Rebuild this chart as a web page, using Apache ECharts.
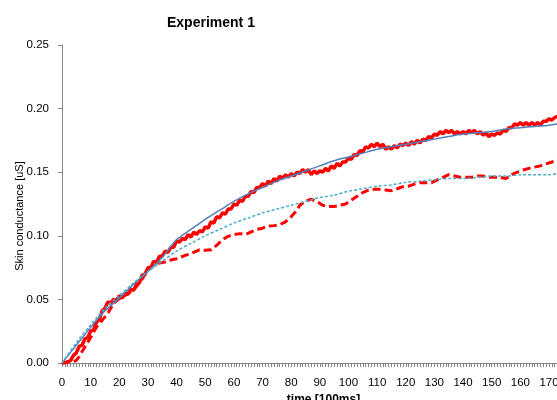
<!DOCTYPE html>
<html>
<head>
<meta charset="utf-8">
<script src="https://cdn.jsdelivr.net/npm/echarts@6/dist/echarts.min.js"></script>
<style>html,body{margin:0;padding:0;background:#fff;}#c{width:557px;height:400px;}</style>
</head>
<body>
<div id="c"></div>
<script>
// Measured data 1 (solid red), one value per time step of 1 (index = time [100ms])
const measured1 = [
0.000,0.000,0.001,0.002,0.006,0.008,0.013,0.014,0.019,0.020,
0.025,0.026,0.032,0.034,0.041,0.043,0.048,0.047,0.050,0.049,
0.053,0.051,0.055,0.054,0.058,0.057,0.062,0.063,0.069,0.070,
0.075,0.075,0.080,0.079,0.084,0.084,0.088,0.087,0.091,0.091,
0.096,0.095,0.098,0.097,0.101,0.099,0.103,0.101,0.104,0.103,
0.107,0.106,0.111,0.110,0.115,0.114,0.118,0.117,0.121,0.121,
0.125,0.124,0.128,0.127,0.131,0.131,0.135,0.134,0.138,0.138,
0.141,0.139,0.143,0.141,0.145,0.143,0.147,0.145,0.148,0.146,
0.149,0.147,0.150,0.149,0.152,0.150,0.152,0.148,0.151,0.149,
0.151,0.150,0.153,0.151,0.155,0.153,0.157,0.155,0.158,0.158,
0.161,0.160,0.164,0.163,0.167,0.166,0.170,0.169,0.172,0.170,
0.173,0.170,0.172,0.168,0.170,0.168,0.171,0.169,0.172,0.171,
0.173,0.171,0.174,0.172,0.175,0.173,0.176,0.175,0.178,0.177,
0.180,0.179,0.182,0.180,0.183,0.181,0.183,0.180,0.182,0.180,
0.182,0.180,0.183,0.181,0.183,0.180,0.182,0.179,0.181,0.178,
0.180,0.179,0.181,0.180,0.183,0.182,0.185,0.185,0.188,0.187,
0.189,0.187,0.189,0.187,0.189,0.187,0.189,0.187,0.190,0.190,
0.192,0.191,0.193,0.194
];

// Measured data 2 (dashed red)
const measured2T = [0,2,4,5,6,7,8,10,12,13,14,16,18,20,22,24,26,28,30,32,34,36,38,40,43,45,48,50,52,54,56,58,60,62,64,66,68,70,72,74,76,78,80,82,83,85,87,89,91,93,95,97,99,101,103,105,107,109,111,113,115,117,119,121,123,125,127,129,131,133,135,137,139,141,143,145,147,149,151,153,155,157,159,161,163,165,167,169,171,173];
const measured2V = [0,0.001,0.001,0.002,0.005,0.009,0.0126,0.020,0.028,0.031,0.0335,0.039,0.047,0.0506,0.053,0.056,0.060,0.066,0.073,0.077,0.0786,0.0794,0.081,0.082,0.0846,0.086,0.089,0.0886,0.089,0.0925,0.097,0.0996,0.101,0.1017,0.101,0.103,0.105,0.106,0.1077,0.108,0.1087,0.111,0.115,0.120,0.124,0.1274,0.1287,0.127,0.124,0.123,0.123,0.124,0.125,0.128,0.131,0.134,0.136,0.1365,0.1365,0.136,0.1355,0.137,0.1386,0.139,0.1407,0.1418,0.1418,0.1418,0.144,0.146,0.148,0.147,0.146,0.146,0.146,0.147,0.147,0.146,0.146,0.146,0.145,0.148,0.150,0.1517,0.153,0.154,0.155,0.1565,0.158,0.1596];

// Fitted curves
const fitT  = [0,5,10,15,20,25,30,35,40,45,50,55,60,65,70,75,80,85,90,95,100,105,110,115,120,125,130,135,140,145,150,155,160,165,170,173];
const fit1V = [0,0.014,0.028,0.041,0.051,0.062,0.072,0.083,0.097,0.105,0.113,0.120,0.127,0.133,0.138,0.143,0.147,0.151,0.155,0.159,0.162,0.165,0.168,0.170,0.172,0.174,0.176,0.178,0.180,0.181,0.182,0.184,0.185,0.186,0.187,0.188];
const fit2V = [0,0.016,0.030,0.043,0.053,0.063,0.072,0.080,0.088,0.094,0.100,0.105,0.110,0.114,0.118,0.121,0.124,0.127,0.130,0.132,0.135,0.137,0.139,0.140,0.142,0.143,0.144,0.145,0.145,0.146,0.147,0.147,0.148,0.148,0.148,0.149];

const yTicks = ['0.00','0.05','0.10','0.15','0.20','0.25'];

const m1 = measured1.map((v, i) => [i, v]);
const m2 = measured2T.map((t, i) => [t, measured2V[i]]);
const f1 = fitT.map((t, i) => [t, fit1V[i]]);
const f2 = fitT.map((t, i) => [t, fit2V[i]]);

const chart = echarts.init(document.getElementById('c'), null, {renderer: 'canvas'});
const FONT = 'Liberation Sans, Arial, sans-serif';
chart.setOption({
  animation: false,
  backgroundColor: '#fff',
  title: {
    text: 'Experiment 1',
    left: 162, top: 11,
    textStyle: {fontFamily: FONT, fontSize: 14, fontWeight: 'bold', color: '#000'}
  },
  graphic: [{
    type: 'text', x: 20, y: 216, rotation: Math.PI / 2,
    style: {text: 'Skin conductance [uS]', fontFamily: FONT, fontSize: 11, fill: '#000',
            align: 'center', verticalAlign: 'middle'}
  }],
  grid: {left: 62, right: 0, top: 45, bottom: 37, containLabel: false, outerBoundsMode: 'none'},
  xAxis: {
    type: 'value', min: 0, max: 172.8, interval: 10,
    name: 'time [100ms]', nameLocation: 'middle', nameGap: 27,
    nameTextStyle: {fontFamily: FONT, fontSize: 12, fontWeight: 'bold', color: '#000', padding: [0, 0, 0, 28]},
    axisLine: {show: true, lineStyle: {color: '#868686', width: 1}},
    axisTick: {show: true, length: 4, lineStyle: {color: '#868686'}},
    minorTick: {show: true, splitNumber: 10, length: 4, lineStyle: {color: '#868686'}},
    splitLine: {show: false},
    axisLabel: {
      fontFamily: FONT, fontSize: 11.5, color: '#000', margin: 14,
      showMaxLabel: false,
      formatter: v => (v % 10 === 0 ? String(v) : '')
    }
  },
  yAxis: {
    type: 'value', min: 0, max: 0.25, interval: 0.05,
    axisLine: {show: true, lineStyle: {color: '#868686', width: 1}},
    axisTick: {show: true, length: 4, lineStyle: {color: '#868686'}},
    splitLine: {show: false},
    axisLabel: {
      fontFamily: FONT, fontSize: 11.5, color: '#000', margin: 13,
      formatter: v => yTicks[Math.round(v / 0.05)]
    }
  },
  series: [
    {name: 'measured 1', type: 'line', data: m1, showSymbol: false, symbol: 'none',
     lineStyle: {color: '#FF0000', width: 3.5}},
    {name: 'measured 2', type: 'line', data: m2, showSymbol: false, symbol: 'none',
     lineStyle: {color: '#FF0000', width: 3, type: [8, 4]}},
    {name: 'fit 1', type: 'line', data: f1, showSymbol: false, symbol: 'none', smooth: 0.3,
     lineStyle: {color: '#4F81BD', width: 1.5}},
    {name: 'fit 2', type: 'line', data: f2, showSymbol: false, symbol: 'none', smooth: 0.3,
     lineStyle: {color: '#4BACC6', width: 1.5, type: [3, 2]}}
  ]
});
</script>
</body>
</html>
